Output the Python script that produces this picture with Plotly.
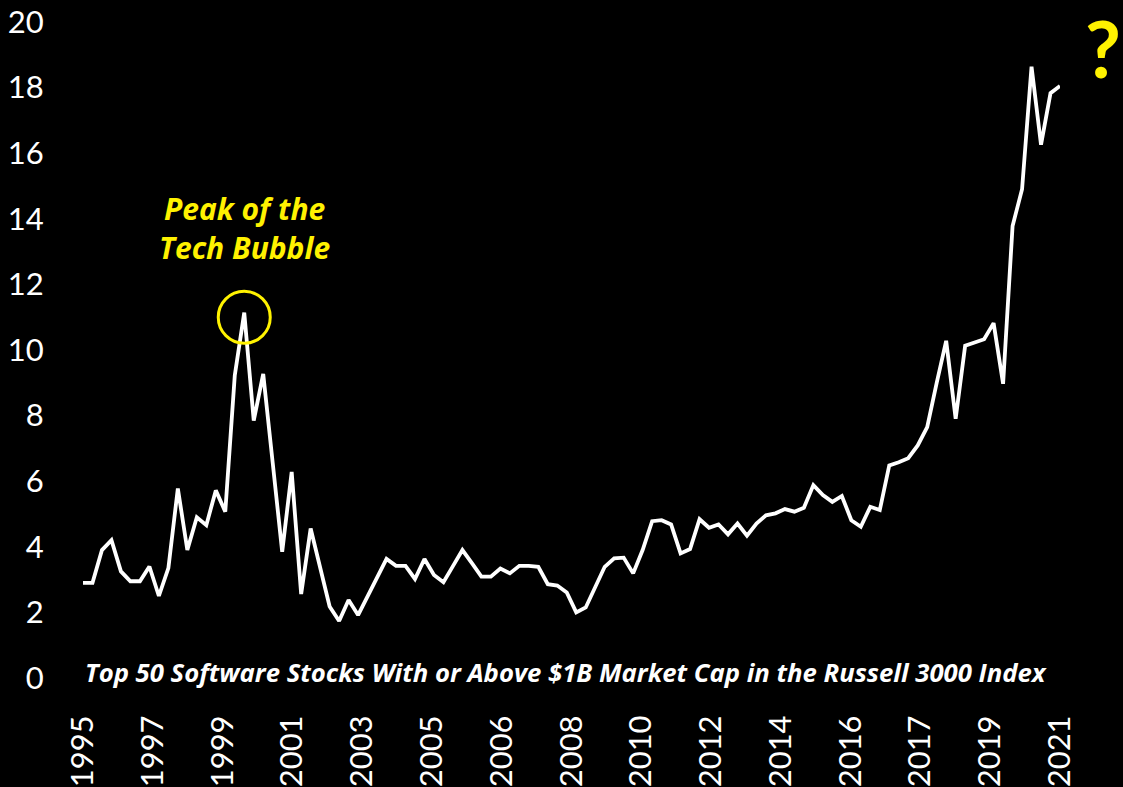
import plotly.graph_objects as go
import numpy as np

# Quarterly values, 1995 Q1 .. 2020 Q4
values = [
    2.9, 2.9, 3.9, 4.2, 3.25, 2.95, 2.95, 3.4, 2.5, 3.35,
    5.78, 3.9, 4.9, 4.66, 5.72, 5.07, 9.22, 11.14, 7.85, 9.27,
    6.56, 3.85, 6.28, 2.56, 4.56, 3.4, 2.18, 1.74, 2.38, 1.92,
    2.49, 3.06, 3.63, 3.42, 3.42, 3.02, 3.63, 3.14, 2.92, 3.41,
    3.9, 3.5, 3.09, 3.09, 3.34, 3.19, 3.42, 3.42, 3.39, 2.86,
    2.82, 2.61, 2.0, 2.15, 2.75, 3.39, 3.65, 3.67, 3.19, 3.9,
    4.78, 4.81, 4.68, 3.8, 3.93, 4.84, 4.58, 4.68, 4.38, 4.71,
    4.34, 4.71, 4.96, 5.02, 5.15, 5.07, 5.19, 5.88, 5.58, 5.37,
    5.55, 4.81, 4.61, 5.22, 5.12, 6.48, 6.58, 6.70, 7.09, 7.65,
    9.0, 10.28, 7.9, 10.13, 10.23, 10.33, 10.82, 8.97, 13.78, 14.9,
    18.64, 16.26, 17.83, 18.05,
]
x_idx = list(range(len(values)))

year_labels = ["1995", "1997", "1999", "2001", "2003", "2005", "2006", "2008",
               "2010", "2012", "2014", "2016", "2017", "2019", "2021"]
y_ticks = [0, 2, 4, 6, 8, 10, 12, 14, 16, 18, 20]

peak_i = int(np.argmax(values[:40]))
tick_pos = list(np.linspace(0, len(values) - 1, len(year_labels)))

fig = go.Figure()
fig.add_trace(go.Scatter(
    x=x_idx, y=values, mode="lines",
    line=dict(color="white", width=3.8),
    hoverinfo="skip", showlegend=False,
))

FONT = "Lato"
TFONT = "Open Sans"
YELLOW = "#FFF200"

fig.add_shape(
    type="circle", xref="x", yref="y",
    xsizemode="pixel", ysizemode="pixel",
    xanchor=peak_i, yanchor=11.0,
    x0=-26, x1=26, y0=-26, y1=26,
    line=dict(color=YELLOW, width=3),
)

fig.add_annotation(
    x=peak_i, y=13.72, xref="x", yref="y",
    text="<b><i>Peak of the<br>Tech Bubble</i></b>",
    showarrow=False, align="center",
    font=dict(family=TFONT, size=30, color=YELLOW),
)

fig.add_annotation(
    x=1.063, y=1.033, xref="paper", yref="paper",
    xanchor="right", yanchor="top", borderpad=0,
    text="<b>?</b>", showarrow=False,
    font=dict(family=FONT, size=78, color=YELLOW),
)

fig.add_annotation(
    x=0, y=0.0, xref="paper", yref="paper",
    xanchor="left", yanchor="middle", yshift=6,
    text="<b><i>Top 50 Software Stocks With or Above $1B Market Cap in the Russell 3000 Index</i></b>",
    showarrow=False,
    font=dict(family=TFONT, size=25.7, color="white"),
)

fig.update_layout(
    width=1123, height=787,
    paper_bgcolor="black", plot_bgcolor="black",
    margin=dict(l=83, r=63, t=22, b=109),
    showlegend=False,
    xaxis=dict(
        range=[0, len(values) - 1], automargin=False,
        tickmode="array", tickvals=tick_pos, ticktext=year_labels,
        tickangle=-90, showgrid=False, zeroline=False, showline=False,
        ticks="outside", ticklen=24, tickcolor="black",
        tickfont=dict(family=FONT, size=31, color="white"),
    ),
    yaxis=dict(
        range=[0, 20], automargin=False,
        tickmode="array", tickvals=y_ticks,
        showgrid=False, zeroline=False, showline=False,
        ticks="outside", ticklen=32, tickcolor="black",
        tickfont=dict(family=FONT, size=31, color="white"),
    ),
)

fig.write_html("out.html")
